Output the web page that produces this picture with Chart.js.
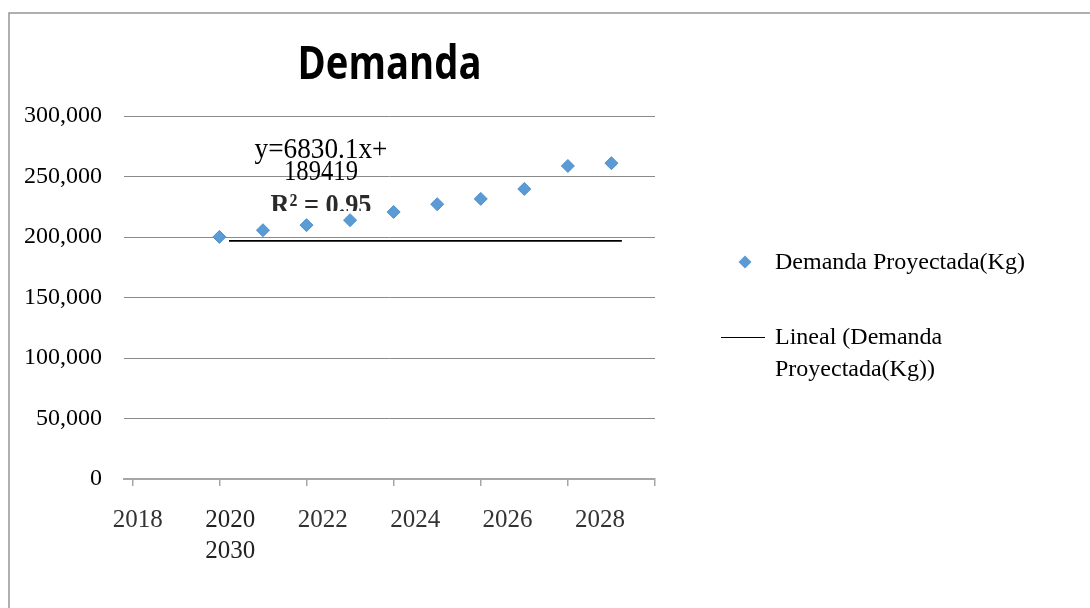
<!DOCTYPE html>
<html><head><meta charset="utf-8">
<script src="https://cdn.jsdelivr.net/npm/chart.js@4.4.1/dist/chart.umd.min.js"></script>
<style>html,body{margin:0;padding:0;background:#fff;}#wrap{width:1090px;height:608px;position:relative;}</style>
</head><body><div id="wrap"><canvas id="c" width="1090" height="608"></canvas></div>
<script>
const chartTitle = 'Demanda';
const years = [2020, 2021, 2022, 2023, 2024, 2025, 2026, 2027, 2028, 2029];
const demand = [200100, 205600, 209800, 213900, 220700, 227100, 231500, 239700, 258700, 261000];
const trendYears = [2020.22, 2029.24];
const trendValues = [196800, 196800];
const seriesLabels = ['Demanda Proyectada(Kg)', 'Lineal (Demanda Proyectada(Kg))'];
const xTickValues = [2018, 2020, 2022, 2024, 2026, 2028, 2030];
const xLabelValues = [2018, 2020, 2022, 2024, 2026, 2028];
const xTickLabels = ['2018', '2020\n2030', '2022', '2024', '2026', '2028'];
const yTickLabels = ['0', '50,000', '100,000', '150,000', '200,000', '250,000', '300,000'];
const equationLines = ['y=6830.1x+', '189419', 'R\u00B2 = 0.95'];

const BLUE = '#5b9bd5';
const SERIF = '"Liberation Serif", "Times New Roman", serif';

function stretchedText(ctx, text, x, y, targetW, sy) {
  const w = ctx.measureText(text).width;
  ctx.save();
  ctx.translate(x, y);
  ctx.scale(targetW / w, sy);
  ctx.fillText(text, 0, 0);
  ctx.restore();
}

const decor = {
  id: 'decor',
  afterDraw(chart) {
    const ctx = chart.ctx, ca = chart.chartArea;
    ctx.save();
    // outer frame
    ctx.strokeStyle = '#959595'; ctx.lineWidth = 1.5;
    ctx.beginPath(); ctx.moveTo(9, 608); ctx.lineTo(9, 13); ctx.lineTo(1090, 13); ctx.stroke();
    // title
    ctx.fillStyle = '#000';
    ctx.font = 'bold 46px "Open Sans", sans-serif';
    ctx.textAlign = 'center'; ctx.textBaseline = 'alphabetic';
    stretchedText(ctx, chartTitle, (ca.left + ca.right) / 2, 79, 184, 1);
    // equation label
    const ex = ca.left + 197;
    ctx.font = '24px ' + SERIF; ctx.textAlign = 'center'; ctx.textBaseline = 'middle';
    ctx.fillStyle = '#000';
    stretchedText(ctx, equationLines[0], ex, 150, 133, 1.25);
    stretchedText(ctx, equationLines[1], ex, 172, 74, 1.25);
    ctx.save();
    ctx.beginPath(); ctx.rect(0, 0, 1090, 211); ctx.clip();
    ctx.fillStyle = '#2a2a2a'; ctx.font = 'bold 24px ' + SERIF;
    stretchedText(ctx, equationLines[2], ex, 206, 101, 1.25);
    ctx.restore();
    // legend
    const ds = chart.data.datasets;
    const lx = 775;
    ctx.font = '24px ' + SERIF; ctx.textAlign = 'left'; ctx.textBaseline = 'middle'; ctx.fillStyle = '#000';
    ctx.save();
    ctx.translate(745, 262); ctx.rotate(Math.PI / 4);
    ctx.fillStyle = ds[0].backgroundColor;
    ctx.fillRect(-4.6, -4.6, 9.2, 9.2);
    ctx.restore();
    ctx.fillText(ds[0].label, lx, 263);
    ctx.strokeStyle = ds[1].borderColor; ctx.lineWidth = 1.2;
    ctx.beginPath(); ctx.moveTo(721, 337.5); ctx.lineTo(765, 337.5); ctx.stroke();
    const words = ds[1].label.split(' ');
    const lines = []; let cur = '';
    for (const w of words) {
      const t = cur ? cur + ' ' + w : w;
      if (ctx.measureText(t).width > 262 && cur) { lines.push(cur); cur = w; } else cur = t;
    }
    lines.push(cur);
    lines.forEach((l, i) => ctx.fillText(l, lx, 338 + i * 32));
    ctx.restore();
  }
};

new Chart(document.getElementById('c'), {
  type: 'scatter',
  data: {
    datasets: [
      {
        label: seriesLabels[0],
        data: years.map((y, i) => ({ x: y, y: demand[i] })),
        pointStyle: 'rectRot', pointRadius: 6.5, pointHoverRadius: 6.5,
        backgroundColor: BLUE, borderColor: '#4f8fca', borderWidth: 1
      },
      {
        type: 'line',
        label: seriesLabels[1],
        data: trendYears.map((y, i) => ({ x: y, y: trendValues[i] })),
        borderColor: '#000', borderWidth: 1.6, pointRadius: 0, showLine: true, fill: false
      }
    ]
  },
  options: {
    responsive: false, animation: false,
    layout: { padding: { left: 0, top: 116, right: 435, bottom: 0 } },
    plugins: { legend: { display: false }, title: { display: false }, tooltip: { enabled: false } },
    scales: {
      x: {
        type: 'linear', position: 'bottom', min: 2017.81, max: 2030,
        afterBuildTicks: a => { a.ticks = xTickValues.map(v => ({ value: v })); },
        afterFit: a => { a.height = 7; },
        ticks: { display: false, autoSkip: false },
        grid: { drawOnChartArea: false, drawTicks: true, tickLength: 7, color: '#a6a6a6', lineWidth: 1.5 },
        border: { display: true, color: '#a6a6a6', width: 2 }
      },
      x2: {
        type: 'linear', position: 'bottom', min: 2017.70, max: 2029.19,
        afterBuildTicks: a => { a.ticks = xLabelValues.map(v => ({ value: v })); },
        afterFit: a => { a.height = 122; },
        ticks: {
          autoSkip: false, maxRotation: 0, padding: 19,
          color: (c) => c.index === 1 ? '#222' : '#333',
          font: { family: SERIF, size: 25, lineHeight: 1.24 },
          callback: (v, i) => xTickLabels[i].split('\n')
        },
        grid: { display: false, drawTicks: false },
        border: { display: false }
      },
      y: {
        min: 0, max: 300000,
        afterBuildTicks: a => { a.ticks = yTickLabels.map((_, i) => ({ value: i * 50000 })); },
        afterFit: a => { a.width = 124; },
        ticks: {
          padding: 22, color: '#000',
          font: { family: SERIF, size: 24 },
          callback: (v, i) => yTickLabels[i]
        },
        grid: { drawTicks: false, color: c => c.tick && c.tick.value === 0 ? 'rgba(0,0,0,0)' : '#8a8a8a', lineWidth: 1 },
        border: { display: false }
      }
    }
  },
  plugins: [decor]
});
</script></body></html>
